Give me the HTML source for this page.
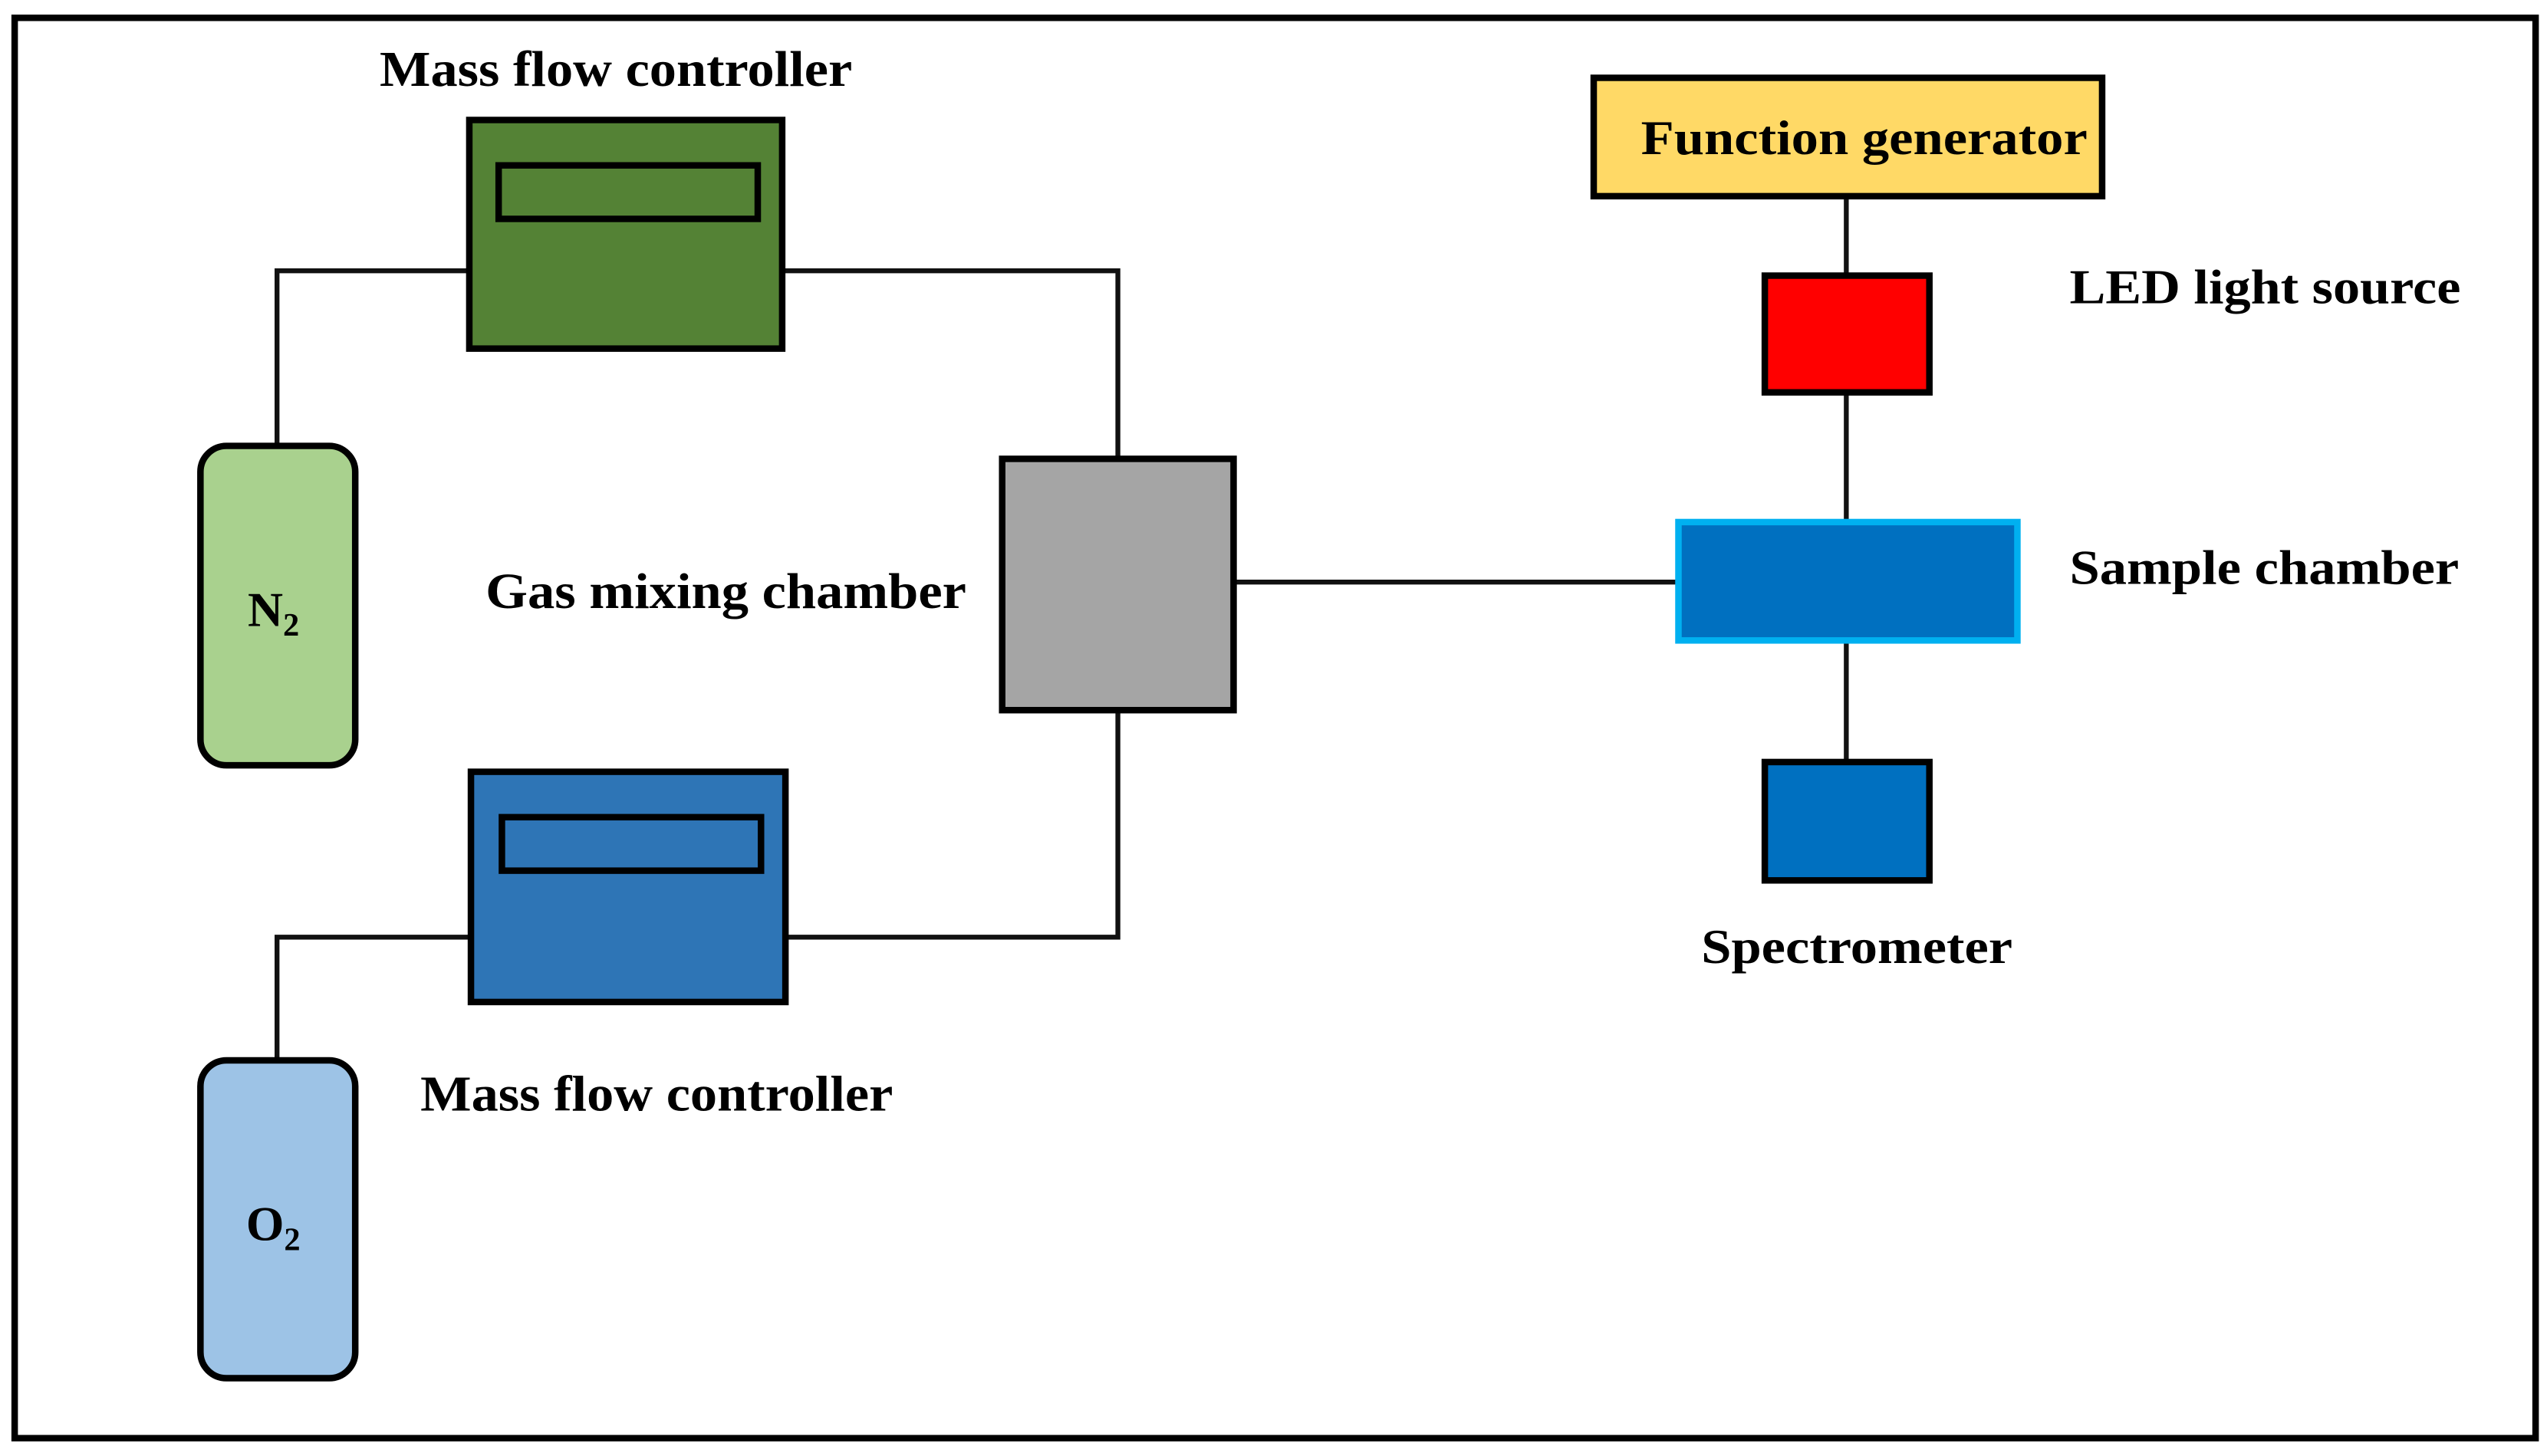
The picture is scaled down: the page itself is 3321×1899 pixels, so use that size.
<!DOCTYPE html>
<html><head><meta charset="utf-8">
<style>
html,body{margin:0;padding:0;background:#fff;}
svg{display:block;}
text{font-family:"Liberation Serif",serif;font-weight:bold;fill:#000;}
</style></head>
<body>
<svg width="3321" height="1899" viewBox="0 0 1563 898" preserveAspectRatio="none" xmlns="http://www.w3.org/2000/svg">
<rect x="0" y="0" width="1563" height="898" fill="#fff"/>
<rect x="9" y="11" width="1547" height="876" fill="none" stroke="#000" stroke-width="4"/>
<!-- connectors -->
<g stroke="#111" stroke-width="3" fill="none">
<polyline points="170,274 170,167 288,167"/>
<polyline points="480,167 686,167 686,282"/>
<polyline points="686,438 686,578 482,578"/>
<polyline points="288,578 170,578 170,653"/>
<line x1="758" y1="359" x2="1030" y2="359"/>
<line x1="1133" y1="121" x2="1133" y2="169"/>
<line x1="1133" y1="242" x2="1133" y2="321"/>
<line x1="1133" y1="395" x2="1133" y2="469"/>
</g>
<!-- MFC top -->
<rect x="288" y="74" width="192" height="141" fill="#548235" stroke="#000" stroke-width="4"/>
<rect x="306" y="102" width="159" height="33" fill="#548235" stroke="#000" stroke-width="4"/>
<!-- MFC bottom -->
<rect x="289" y="476" width="193" height="142" fill="#2E75B6" stroke="#000" stroke-width="4"/>
<rect x="308" y="504" width="159" height="33" fill="#2E75B6" stroke="#000" stroke-width="4"/>
<!-- cylinders -->
<rect x="123" y="275" width="95" height="197" rx="16" fill="#A9D18E" stroke="#000" stroke-width="4"/>
<rect x="123" y="654" width="95" height="196" rx="16" fill="#9DC3E6" stroke="#000" stroke-width="4"/>
<!-- mixing chamber -->
<rect x="615" y="283" width="142" height="155" fill="#A5A5A5" stroke="#000" stroke-width="4"/>
<!-- right side -->
<rect x="978" y="48" width="312" height="73" fill="#FFD966" stroke="#000" stroke-width="4"/>
<rect x="1083" y="170" width="101" height="72" fill="#FF0000" stroke="#000" stroke-width="4"/>
<rect x="1030" y="322" width="208" height="73" fill="#0070C0" stroke="#00B0F0" stroke-width="4"/>
<rect x="1083" y="470" width="101" height="73" fill="#0070C0" stroke="#000" stroke-width="4"/>
<!-- labels -->
<text x="233" y="53" font-size="31" textLength="290" lengthAdjust="spacingAndGlyphs">Mass flow controller</text>
<text x="258" y="685" font-size="31" textLength="290" lengthAdjust="spacingAndGlyphs">Mass flow controller</text>
<text x="298" y="375" font-size="31" textLength="295" lengthAdjust="spacingAndGlyphs">Gas mixing chamber</text>
<text x="152" y="386" font-size="30">N<tspan font-size="20" dy="6">2</tspan></text>
<text x="151" y="765" font-size="30">O<tspan font-size="20" dy="6">2</tspan></text>
<text x="1007" y="95" font-size="30" textLength="274" lengthAdjust="spacingAndGlyphs">Function generator</text>
<text x="1270" y="187" font-size="30" textLength="240" lengthAdjust="spacingAndGlyphs">LED light source</text>
<text x="1270" y="360" font-size="30" textLength="239" lengthAdjust="spacingAndGlyphs">Sample chamber</text>
<text x="1044" y="594" font-size="30" textLength="191" lengthAdjust="spacingAndGlyphs">Spectrometer</text>
</svg>
</body></html>
